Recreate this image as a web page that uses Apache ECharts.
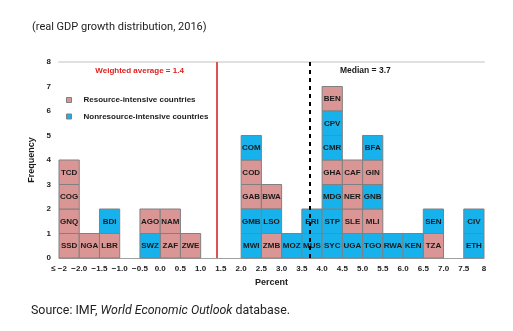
<!DOCTYPE html>
<html>
<head>
<meta charset="utf-8">
<script src="https://cdn.jsdelivr.net/npm/echarts@6/dist/echarts.min.js"></script>
<style>
html,body{margin:0;padding:0;background:#fff;}
#c{width:513px;height:331px;}
</style>
</head>
<body>
<div id="c"></div>
<script>
// ---- data ----
const BIN = 0.5;
const binStarts = [-2.5, -2, -1.5, -1, -0.5, 0, 0.5, 1, 1.5, 2, 2.5, 3, 3.5, 4, 4.5, 5, 5.5, 6, 6.5, 7, 7.5];
const binCountries = [
  ['SSD', 'GNQ', 'COG', 'TCD'],
  ['NGA'],
  ['LBR', 'BDI'],
  [],
  ['SWZ', 'AGO'],
  ['ZAF', 'NAM'],
  ['ZWE'],
  [],
  [],
  ['MWI', 'GMB', 'GAB', 'COD', 'COM'],
  ['ZMB', 'LSO', 'BWA'],
  ['MOZ'],
  ['MUS', 'ERI'],
  ['SYC', 'STP', 'MDG', 'GHA', 'CMR', 'CPV', 'BEN'],
  ['UGA', 'SLE', 'NER', 'CAF'],
  ['TGO', 'MLI', 'GNB', 'GIN', 'BFA'],
  ['RWA'],
  ['KEN'],
  ['TZA', 'SEN'],
  [],
  ['ETH', 'CIV']
];
const resourceIntensive = ['SSD', 'GNQ', 'COG', 'TCD', 'NGA', 'LBR', 'AGO', 'ZAF', 'NAM', 'ZWE',
  'GAB', 'COD', 'ZMB', 'BWA', 'GHA', 'BEN', 'SLE', 'NER', 'CAF', 'MLI', 'GIN', 'TZA'];
const weightedAverage = 1.4;
const median = 3.7;
const xMin = -2.5, xMax = 8;
const yTicks = [0, 1, 2, 3, 4, 5, 6, 7, 8];
const seriesNames = ['Resource-intensive countries', 'Nonresource-intensive countries'];

// ---- build ----
const resData = [], nonData = [];
binStarts.forEach((b, i) => {
  binCountries[i].forEach((c, lvl) => {
    (resourceIntensive.includes(c) ? resData : nonData).push([b, lvl, c]);
  });
});

const PINK = '#d99694', BLUE = '#17b1ec', BORDER = '#808080';
const FONT = '"Liberation Sans", Arial, sans-serif';

function renderCell(color) {
  return function (params, api) {
    const x0 = api.value(0), lvl = api.value(1);
    const p1 = api.coord([x0, lvl + 1]);
    const p2 = api.coord([x0 + BIN, lvl]);
    return {
      type: 'group',
      children: [
        { type: 'rect', shape: { x: p1[0], y: p1[1], width: p2[0] - p1[0], height: p2[1] - p1[1] },
          style: { fill: color, stroke: BORDER, lineWidth: 1 } },
        { type: 'text', style: { text: api.value(2), x: (p1[0] + p2[0]) / 2, y: (p1[1] + p2[1]) / 2 + 0.5,
          align: 'center', verticalAlign: 'middle', font: 'bold 8px ' + FONT, fill: '#1a1a1a' } }
      ]
    };
  };
}

function fmt(v) {
  if (Math.abs(v - xMin) < 1e-9) return '\u2264 \u22122';
  if (Math.abs(v - xMax) < 1e-9) return String(v);
  const s = Math.abs(v).toFixed(1);
  return v < -1e-9 ? '\u2212' + s : s;
}

const chart = echarts.init(document.getElementById('c'), null, { renderer: 'canvas' });
const option = {
  animation: false,
  backgroundColor: '#fff',
  title: [
    { text: '(real GDP growth distribution, 2016)', left: 32, top: 22, padding: 0,
      textStyle: { fontFamily: 'Roboto', fontSize: 11, fontWeight: 'normal', color: '#222' } },
    { text: '{n|Source: IMF, }{i|World Economic Outlook}{n| database.}', left: 31, top: 305, padding: 0,
      textStyle: { fontWeight: 'normal', rich: {
        n: { fontFamily: 'Roboto', fontSize: 12.4, fontWeight: 'normal', color: '#222' },
        i: { fontFamily: 'Roboto', fontSize: 12.4, fontWeight: 'normal', fontStyle: 'italic', color: '#222' } } } }
  ],
  legend: {
    orient: 'vertical', left: 66, top: 96, padding: 0, itemWidth: 5, itemHeight: 5, itemGap: 8.5,
    icon: 'rect',
    itemStyle: { borderColor: BORDER, borderWidth: 1 },
    textStyle: { fontFamily: FONT, fontSize: 8, fontWeight: 'bold', color: '#1a1a1a', padding: [0, 0, 0, 7] },
    data: seriesNames
  },
  grid: { left: 59, right: 29, top: 62, bottom: 73, containLabel: false },
  xAxis: [
    { type: 'value', min: xMin, max: xMax, interval: BIN, position: 'bottom',
      name: 'Percent', nameLocation: 'middle', nameGap: 17,
      nameTextStyle: { fontFamily: FONT, fontSize: 9, fontWeight: 'bold', color: '#1a1a1a' },
      axisLine: { show: true, lineStyle: { color: '#a0a0a0', width: 1 } },
      axisTick: { show: false }, splitLine: { show: false },
      axisLabel: { formatter: fmt, fontFamily: FONT, fontSize: 8, fontWeight: 'bold', color: '#222', margin: 7,
        showMinLabel: true, showMaxLabel: true } },
    { type: 'value', min: xMin, max: xMax, position: 'top',
      axisLine: { show: true, lineStyle: { color: '#e0e0e0', width: 2 } },
      axisTick: { show: false }, axisLabel: { show: false }, splitLine: { show: false } }
  ],
  yAxis: {
    type: 'value', min: yTicks[0], max: yTicks[yTicks.length - 1], interval: 1,
    name: 'Frequency', nameLocation: 'middle', nameGap: 19,
    nameTextStyle: { fontFamily: FONT, fontSize: 9, fontWeight: 'bold', color: '#1a1a1a' },
    axisLine: { show: false }, axisTick: { show: false }, splitLine: { show: false },
    axisLabel: { fontFamily: FONT, fontSize: 8, fontWeight: 'bold', color: '#222', margin: 8 }
  },
  series: [
    { name: seriesNames[0], type: 'custom', renderItem: renderCell(PINK), data: resData,
      itemStyle: { color: PINK }, encode: { x: 0, y: 1 }, z: 2,
      markLine: {
        silent: true, symbol: 'none', label: { show: false }, z: 10,
        data: [
          { xAxis: weightedAverage, lineStyle: { color: '#dd5353', width: 2, type: 'solid' } },
          { xAxis: median, lineStyle: { color: '#000', width: 2, type: [4, 4] } }
        ]
      } },
    { name: seriesNames[1], type: 'custom', renderItem: renderCell(BLUE), data: nonData,
      itemStyle: { color: BLUE }, encode: { x: 0, y: 1 }, z: 2 }
  ]
};
chart.setOption(option);

const top8 = chart.convertToPixel({ gridIndex: 0 }, [weightedAverage, 8]);
const medPx = chart.convertToPixel({ gridIndex: 0 }, [median, 8]);
chart.setOption({
  graphic: [
    { type: 'text', x: top8[0] - 33, y: top8[1] + 9,
      style: { text: 'Weighted average = ' + weightedAverage, align: 'right', verticalAlign: 'middle',
        font: 'bold 8px ' + FONT, fill: '#e0201e' } },
    { type: 'text', x: medPx[0] + 30, y: medPx[1] + 9,
      style: { text: 'Median = ' + median, align: 'left', verticalAlign: 'middle',
        font: 'bold 8.5px ' + FONT, fill: '#1a1a1a' } }
  ]
});
</script>
</body>
</html>
